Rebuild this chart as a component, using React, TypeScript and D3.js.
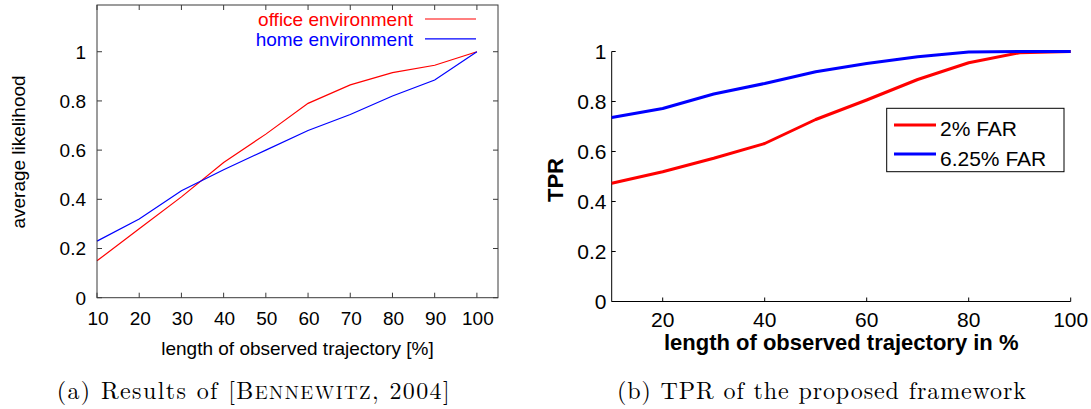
import React from "react";
import * as d3 from "d3";

// Panel (a): average likelihood vs. observed trajectory length
const lengthsA = [10, 20, 30, 40, 50, 60, 70, 80, 90, 100];
const officeLikelihood = [0.15, 0.28, 0.41, 0.55, 0.665, 0.79, 0.865, 0.915, 0.945, 1.0];
const homeLikelihood = [0.23, 0.32, 0.435, 0.52, 0.6, 0.68, 0.745, 0.82, 0.885, 1.0];
const seriesA = [
  { name: "office environment", color: "#ff0000", values: officeLikelihood },
  { name: "home environment", color: "#0000ff", values: homeLikelihood },
];
const xTicksA = [10, 20, 30, 40, 50, 60, 70, 80, 90, 100];
const yTicksA = [0, 0.2, 0.4, 0.6, 0.8, 1];

// Panel (b): true positive rate vs. observed trajectory length
const lengthsB = [10, 20, 30, 40, 50, 60, 70, 80, 90, 100];
const tprFar2 = [0.473, 0.519, 0.573, 0.632, 0.728, 0.806, 0.888, 0.955, 0.995, 1.0];
const tprFar625 = [0.736, 0.772, 0.83, 0.872, 0.919, 0.952, 0.979, 0.998, 1.0, 1.0];
const seriesB = [
  { name: "2% FAR", color: "#ff0000", values: tprFar2 },
  { name: "6.25% FAR", color: "#0000ff", values: tprFar625 },
];
const xTicksB = [20, 40, 60, 80, 100];
const yTicksB = [0, 0.2, 0.4, 0.6, 0.8, 1];

const SANS = "'Liberation Sans', Arial, Helvetica, sans-serif";
const SERIF = "'Latin Modern Roman', 'CMU Serif', 'Liberation Serif', 'DejaVu Serif', serif";

const fmt = (v: number) => (v === 0 ? "0" : v === 1 ? "1" : String(v));

function PanelA() {
  const x = d3.scaleLinear().domain([10, 105]).range([97, 498]);
  const y = d3.scaleLinear().domain([0, 1.19]).range([297.7, 5]);
  const [x0, x1] = x.range();
  const [yb, yt] = y.range();
  const tick = 5;
  const frame = "#3a3a3a";
  const line = d3
    .line<number>()
    .x((_, i) => x(lengthsA[i]))
    .y((d) => y(d));
  return (
    <g>
      {/* tick marks on all four sides, pointing inward */}
      {xTicksA.map((t) => (
        <g key={"xt" + t} stroke={frame} strokeWidth={1}>
          <line x1={x(t)} x2={x(t)} y1={yb} y2={yb - tick} />
          <line x1={x(t)} x2={x(t)} y1={yt} y2={yt + tick} />
        </g>
      ))}
      {yTicksA.map((t) => (
        <g key={"yt" + t} stroke={frame} strokeWidth={1}>
          <line x1={x0} x2={x0 + tick} y1={y(t)} y2={y(t)} />
          <line x1={x1} x2={x1 - tick} y1={y(t)} y2={y(t)} />
        </g>
      ))}
      {xTicksA.map((t) => (
        <text key={"xl" + t} x={x(t) + 1} y={325} textAnchor="middle" fontFamily={SANS} fontSize={19} fill="#000">
          {t}
        </text>
      ))}
      {yTicksA.map((t) => (
        <text key={"yl" + t} x={86} y={y(t) + 6.8} textAnchor="end" fontFamily={SANS} fontSize={19} fill="#000">
          {fmt(t)}
        </text>
      ))}
      {seriesA.map((s) => (
        <path key={s.name} d={line(s.values) || ""} fill="none" stroke={s.color} strokeWidth={1.2} />
      ))}
      <rect x={x0} y={yt} width={x1 - x0} height={yb - yt} fill="none" stroke={frame} strokeWidth={1} />
      {/* key */}
      {seriesA.map((s, i) => (
        <g key={"lg" + s.name}>
          <text x={413} y={26 + i * 19.5} textAnchor="end" fontFamily={SANS} fontSize={19} fill={s.color}>
            {s.name}
          </text>
          <line x1={425} x2={476} y1={19 + i * 19.8} y2={19 + i * 19.8} stroke={s.color} strokeWidth={1.2} />
        </g>
      ))}
      <text
        transform={`translate(25,152) rotate(-90)`}
        textAnchor="middle"
        fontFamily={SANS}
        fontSize={19}
        fill="#000"
      >
        average likelihood
      </text>
      <text x={(x0 + x1) / 2} y={355} textAnchor="middle" fontFamily={SANS} fontSize={19} fill="#000">
        length of observed trajectory [%]
      </text>
    </g>
  );
}

function PanelB() {
  const x = d3.scaleLinear().domain([10, 100]).range([611.7, 1070.7]);
  const y = d3.scaleLinear().domain([0, 1]).range([301.5, 51.5]);
  const [x0, x1] = x.range();
  const [yb, yt] = y.range();
  const tick = 4;
  const line = d3
    .line<number>()
    .x((_, i) => x(lengthsB[i]))
    .y((d) => y(d));
  const lgX = 886.7;
  const lgY = 108.3;
  return (
    <g>
      <line x1={x0} x2={x0} y1={yt} y2={yb} stroke="#000" strokeWidth={1} />
      <line x1={x0} x2={x1} y1={yb} y2={yb} stroke="#000" strokeWidth={1} />
      {xTicksB.map((t) => (
        <g key={"xt" + t}>
          <line x1={x(t)} x2={x(t)} y1={yb} y2={yb - tick} stroke="#000" strokeWidth={1} />
          <text x={x(t)} y={327} textAnchor="middle" fontFamily={SANS} fontSize={21} fill="#000">
            {t}
          </text>
        </g>
      ))}
      {yTicksB.map((t) => (
        <g key={"yt" + t}>
          <line x1={x0} x2={x0 + tick} y1={y(t)} y2={y(t)} stroke="#000" strokeWidth={1} />
          <text x={606.5} y={y(t) + 7.5} textAnchor="end" fontFamily={SANS} fontSize={21} fill="#000">
            {fmt(t)}
          </text>
        </g>
      ))}
      {seriesB.map((s) => (
        <path key={s.name} d={line(s.values) || ""} fill="none" stroke={s.color} strokeWidth={3} strokeLinejoin="round" />
      ))}
      <rect x={lgX} y={lgY} width={1064 - lgX} height={171.7 - lgY} fill="#fff" stroke="#000" strokeWidth={1} />
      {seriesB.map((s, i) => (
        <g key={"lg" + s.name}>
          <line x1={894} x2={936} y1={125 + i * 29} y2={125 + i * 29} stroke={s.color} strokeWidth={3} />
          <text x={940} y={136 + i * 29.5} fontFamily={SANS} fontSize={21} fill="#000">
            {s.name}
          </text>
        </g>
      ))}
      <text
        transform={`translate(563,180) rotate(-90)`}
        textAnchor="middle"
        fontFamily={SANS}
        fontWeight="bold"
        fontSize={22}
        fill="#000"
      >
        TPR
      </text>
      <text x={(x0 + x1) / 2} y={350} textAnchor="middle" fontFamily={SANS} fontWeight="bold" fontSize={22} fill="#000">
        length of observed trajectory in %
      </text>
    </g>
  );
}

export default function App() {
  return (
    <svg
      width={1091}
      height={409}
      viewBox="0 0 1091 409"
      style={{ position: "absolute", left: 0, top: 0, background: "#fff" }}
    >
      <rect x={0} y={0} width={1091} height={409} fill="#fff" />
      <PanelA />
      <PanelB />
      <text x={56.7} y={399} fontFamily={SERIF} fontSize={24} fill="#000" textLength={393} lengthAdjust="spacing">
        (a) Results of [B<tspan fontSize={19}>ENNEWITZ</tspan>, 2004]
      </text>
      <text x={617} y={399} fontFamily={SERIF} fontSize={24} fill="#000" textLength={409} lengthAdjust="spacing">
        (b) TPR of the proposed framework
      </text>
    </svg>
  );
}
